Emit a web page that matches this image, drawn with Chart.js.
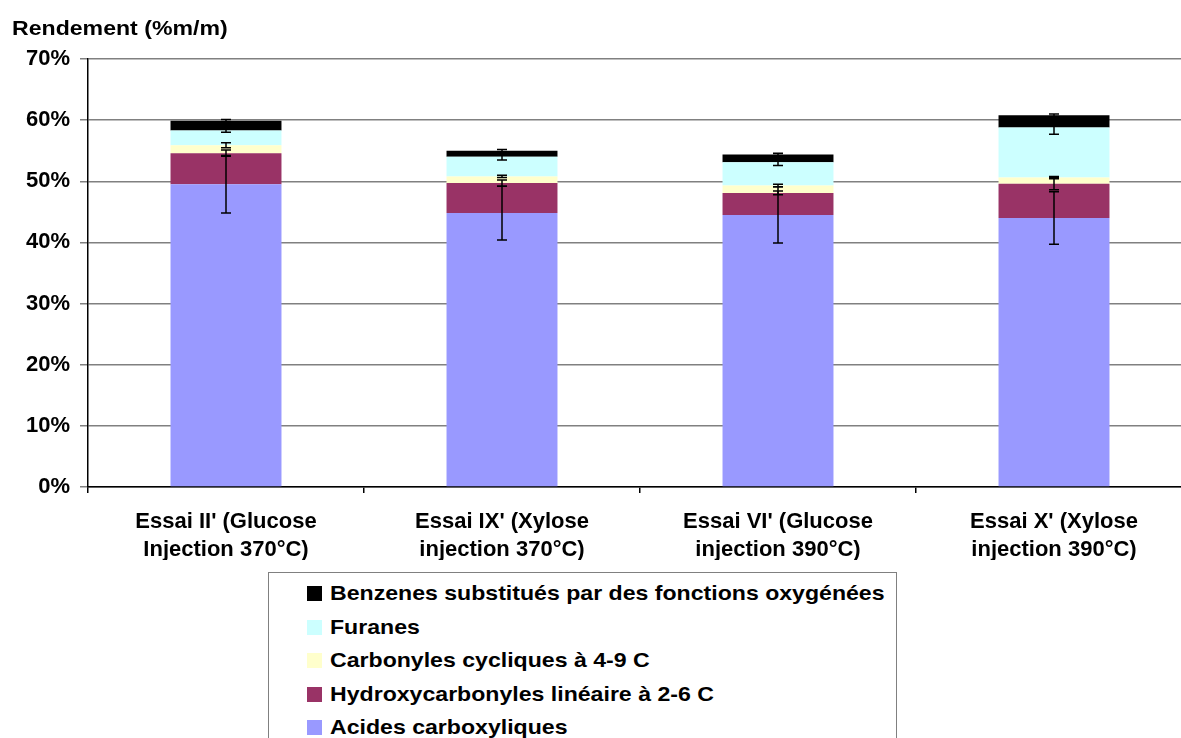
<!DOCTYPE html>
<html>
<head>
<meta charset="utf-8">
<script src="https://cdn.jsdelivr.net/npm/chart.js@4/dist/chart.umd.min.js"></script>
<style>
  html, body { margin: 0; padding: 0; background: #fff; overflow: hidden; }
  #wrap { position: relative; width: 1181px; height: 738px; overflow: hidden; }
  #chart { position: absolute; left: 0; top: 0; }
  .txt { font-family: "Liberation Sans", Arial, sans-serif; font-weight: bold; font-size: 21px; color: #000; }
  .wide { display: inline-block; transform: scaleX(1.1); transform-origin: 0 50%; }
  #ytitle { position: absolute; left: 12px; top: 16px; white-space: nowrap; }
  #legend { position: absolute; left: 268px; top: 572px; width: 629px; height: 200px;
            border: 1.5px solid #808080; box-sizing: border-box; }
  .item { position: absolute; left: 38px; height: 24px; white-space: nowrap; }
  .item span.box { position: absolute; left: 0; top: 5px; width: 15px; height: 15px; }
  .item span.lbl { position: absolute; left: 23px; top: 0; line-height: 24px; }
</style>
</head>
<body>
<div id="wrap">
  <canvas id="chart" width="1200" height="560"></canvas>
  <div id="ytitle" class="txt"><span class="wide">Rendement (%m/m)</span></div>
  <div id="legend" class="txt"></div>
</div>
<script>
// Essais and stacked yields (%m/m)
const categories = [
  ["Essai II' (Glucose", "Injection 370°C)"],
  ["Essai IX' (Xylose", "injection 370°C)"],
  ["Essai VI' (Glucose", "injection 390°C)"],
  ["Essai X' (Xylose", "injection 390°C)"]
];
const acides      = [49.5, 44.8, 44.5, 44.0];
const hydroxy     = [5.1, 4.9, 3.6, 5.6];
const carbonyles  = [1.3, 1.1, 1.2, 1.0];
const furanes     = [2.4, 3.2, 3.8, 8.2];
const benzenes    = [1.6, 1.0, 1.3, 2.0];

// error bar half-widths per series
const errAcides     = [4.7, 4.4, 4.6, 4.3];
const errHydroxy    = [0.5, 0.5, 0.3, 1.0];
const errCarbonyles = [0.4, 0.2, 0.2, 0.2];
const errFuranes    = [0.3, 0.5, 0.5, 1.1];
const errBenzenes   = [0.2, 0.2, 0.2, 0.2];

const yTicks = [0, 10, 20, 30, 40, 50, 60, 70];

const FONT = { family: '"Liberation Sans", Arial, sans-serif', size: 22, weight: 'bold', lineHeight: 1.27 };

const datasets = [
  { label: 'Acides carboxyliques', data: acides, errors: errAcides, backgroundColor: '#9999FF' },
  { label: 'Hydroxycarbonyles linéaire à 2-6 C', data: hydroxy, errors: errHydroxy, backgroundColor: '#993366' },
  { label: 'Carbonyles cycliques à 4-9 C', data: carbonyles, errors: errCarbonyles, backgroundColor: '#FFFFCC' },
  { label: 'Furanes', data: furanes, errors: errFuranes, backgroundColor: '#CCFFFF' },
  { label: 'Benzenes substitués par des fonctions oxygénées', data: benzenes, errors: errBenzenes, backgroundColor: '#000000' }
];

// draws the error bars at the top of each stacked segment
const errorBars = {
  id: 'errorBars',
  afterDatasetsDraw(chart) {
    const { ctx, scales: { x, y } } = chart;
    ctx.save();
    ctx.strokeStyle = '#000';
    ctx.lineWidth = 1.5;
    chart.data.datasets.forEach((ds, i) => {
      ds.data.forEach((v, j) => {
        let cum = 0;
        for (let k = 0; k <= i; k++) cum += chart.data.datasets[k].data[j];
        const e = ds.errors[j];
        const px = x.getPixelForValue(j);
        const hi = y.getPixelForValue(cum + e);
        const lo = y.getPixelForValue(cum - e);
        ctx.beginPath();
        ctx.moveTo(px, hi); ctx.lineTo(px, lo);
        ctx.moveTo(px - 5, hi); ctx.lineTo(px + 5, hi);
        ctx.moveTo(px - 5, lo); ctx.lineTo(px + 5, lo);
        ctx.stroke();
      });
    });
    ctx.restore();
  }
};

const ctx = document.getElementById('chart').getContext('2d');
const chart = new Chart(ctx, {
  type: 'bar',
  data: { labels: categories, datasets: datasets },
  options: {
    responsive: false,
    animation: false,
    layout: { padding: { top: 59, left: 0, right: 8, bottom: 0 } },
    datasets: { bar: { barPercentage: 0.402, categoryPercentage: 1.0 } },
    plugins: { legend: { display: false }, tooltip: { enabled: false } },
    scales: {
      x: {
        stacked: true,
        afterFit: (s) => { s.height = 73; },
        grid: { drawOnChartArea: false, drawTicks: true, tickLength: 6, color: '#000', lineWidth: 1.5, offset: true },
        border: { color: '#000', width: 1.5 },
        ticks: { color: '#000', font: FONT, padding: 15, maxRotation: 0, autoSkip: false }
      },
      y: {
        stacked: true,
        min: 0,
        max: 70,
        afterFit: (s) => { s.width = 88; },
        afterBuildTicks: (s) => { s.ticks = yTicks.map(v => ({ value: v })); },
        grid: { color: '#808080', lineWidth: 1.5, tickLength: 8 },
        border: { color: '#000', width: 1.5 },
        ticks: { color: '#000', font: FONT, padding: 10, callback: v => v + '%' }
      }
    }
  },
  plugins: [errorBars]
});

// legend, top entry is the last stacked series
const legend = document.getElementById('legend');
datasets.slice().reverse().forEach((ds, i) => {
  const item = document.createElement('div');
  item.className = 'item';
  item.style.top = (8 + i * 33.5) + 'px';
  const box = document.createElement('span');
  box.className = 'box';
  box.style.background = ds.backgroundColor;
  const lbl = document.createElement('span');
  lbl.className = 'lbl';
  const inner = document.createElement('span');
  inner.className = 'wide';
  inner.textContent = ds.label;
  lbl.appendChild(inner);
  item.appendChild(box);
  item.appendChild(lbl);
  legend.appendChild(item);
});
</script>
</body>
</html>
